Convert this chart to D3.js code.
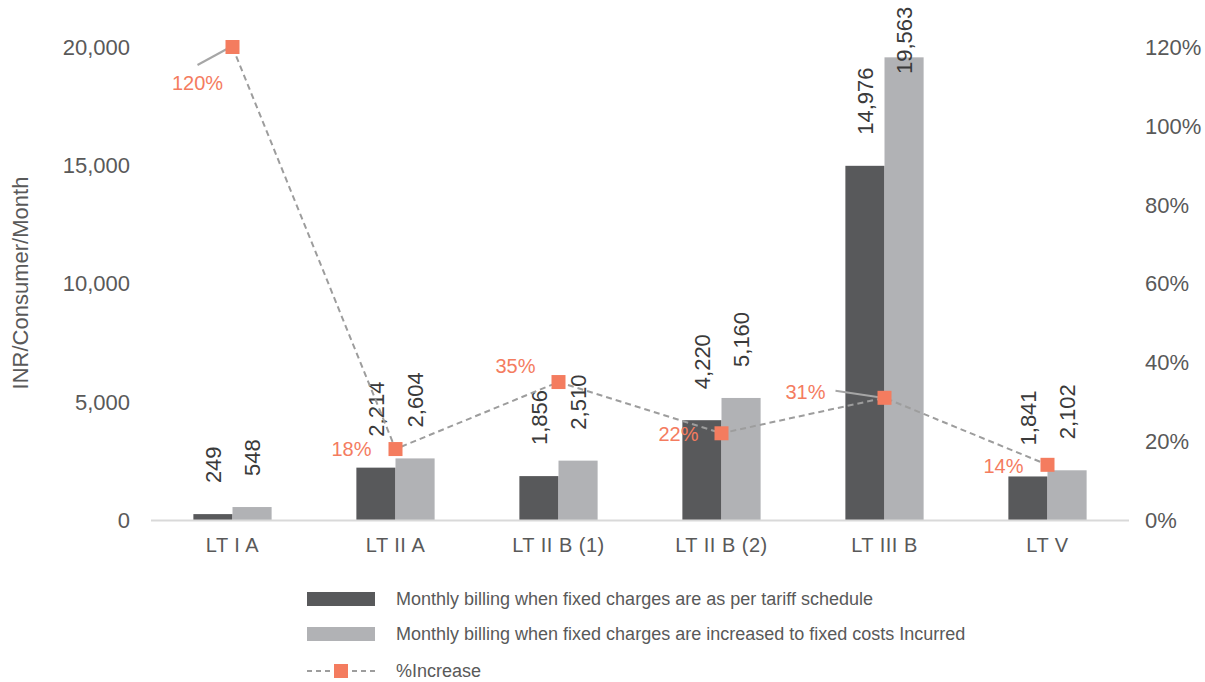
<!DOCTYPE html>
<html>
<head>
<meta charset="utf-8">
<script src="https://cdn.jsdelivr.net/npm/d3@7"></script>
<style>
  body { margin: 0; background: #fff; }
  text { font-family: "Liberation Sans", Arial, Helvetica, sans-serif; }
</style>
</head>
<body>
<div id="chart-area"></div>
<script>
// data
var categories = ["LT I A", "LT II A", "LT II B (1)", "LT II B (2)", "LT III B", "LT V"];
var tariffBilling = [249, 2214, 1856, 4220, 14976, 1841];
var costBilling = [548, 2604, 2510, 5160, 19563, 2102];
var pctIncrease = [120, 18, 35, 22, 31, 14];
var leftTicks = [0, 5000, 10000, 15000, 20000];
var rightTicks = [0, 20, 40, 60, 80, 100, 120];
var seriesNames = ["Monthly billing when fixed charges are as per tariff schedule",
                   "Monthly billing when fixed charges are increased to fixed costs Incurred",
                   "%Increase"];

// label placement for the % labels (relative to marker)
var pctLabelPos = [
  {dx: -35, dy: 43, anchor: "middle", leader: [-35, 18]},
  {dx: -24, dy: 7, anchor: "end"},
  {dx: -23, dy: -9, anchor: "end"},
  {dx: -23, dy: 8, anchor: "end"},
  {dx: -59, dy: 1, anchor: "end", leader: [-49, -7]},
  {dx: -24, dy: 8, anchor: "end"}
];

var darkCol = "#58595b",
    lightCol = "#b1b2b5",
    accent = "#f47c5f",
    textCol = "#595959";

var width = 1205, height = 682;
var plot = {left: 151, right: 1129, top: 47, bottom: 520};

var svg = d3.select("#chart-area")
  .append("svg")
  .attr("width", width)
  .attr("height", height);

var x0 = d3.scaleBand()
  .domain(categories)
  .range([plot.left, plot.right])
  .paddingInner(0.52)
  .paddingOuter(0.26);

var x1 = d3.scaleBand()
  .domain([0, 1])
  .range([0, x0.bandwidth()]);

var y = d3.scaleLinear()
  .domain([0, 20000])
  .range([plot.bottom, plot.top]);

var y2 = d3.scaleLinear()
  .domain([0, 120])
  .range([plot.bottom, plot.top]);

// left axis labels
svg.append("g")
  .selectAll("text")
  .data(leftTicks)
  .enter().append("text")
    .attr("x", 130)
    .attr("y", function(d){ return y(d); })
    .attr("dy", "0.36em")
    .attr("text-anchor", "end")
    .attr("font-size", "22px")
    .attr("fill", textCol)
    .text(function(d){ return d3.format(",")(d); });

// right axis labels
svg.append("g")
  .selectAll("text")
  .data(rightTicks)
  .enter().append("text")
    .attr("x", 1145)
    .attr("y", function(d){ return y2(d); })
    .attr("dy", "0.36em")
    .attr("text-anchor", "start")
    .attr("font-size", "22px")
    .attr("fill", textCol)
    .text(function(d){ return d + "%"; });

// y axis title
svg.append("text")
  .attr("transform", "translate(28," + 283 + ") rotate(-90)")
  .attr("text-anchor", "middle")
  .attr("font-size", "22px")
  .attr("fill", textCol)
  .text("INR/Consumer/Month");

// bars
var groups = svg.append("g")
  .selectAll("g")
  .data(categories)
  .enter().append("g")
    .attr("transform", function(d){ return "translate(" + x0(d) + ",0)"; });

var barData = function(d, i){
  return [{s: 0, v: tariffBilling[i]}, {s: 1, v: costBilling[i]}];
};

groups.selectAll("rect")
  .data(barData)
  .enter().append("rect")
    .attr("x", function(d){ return x1(d.s); })
    .attr("y", function(d){ return y(d.v); })
    .attr("width", x1.bandwidth())
    .attr("height", function(d){ return plot.bottom - y(d.v); })
    .attr("fill", function(d){ return d.s == 0 ? darkCol : lightCol; });

// baseline
svg.append("line")
  .attr("x1", plot.left).attr("x2", plot.right)
  .attr("y1", plot.bottom + 0.5).attr("y2", plot.bottom + 0.5)
  .attr("stroke", "#d9d9d9")
  .attr("stroke-width", 2);

// category labels
svg.append("g")
  .selectAll("text")
  .data(categories)
  .enter().append("text")
    .attr("x", function(d){ return x0(d) + x0.bandwidth() / 2; })
    .attr("y", 552)
    .attr("text-anchor", "middle")
    .attr("font-size", "20px")
    .attr("letter-spacing", "0.5px")
    .attr("fill", textCol)
    .text(function(d){ return d; });

// % increase line
var lineGen = d3.line()
  .x(function(d, i){ return x0(categories[i]) + x0.bandwidth() / 2; })
  .y(function(d){ return y2(d); });

svg.append("path")
  .datum(pctIncrease)
  .attr("d", lineGen)
  .attr("fill", "none")
  .attr("stroke", "#9d9d9d")
  .attr("stroke-width", 2)
  .attr("stroke-dasharray", "6,4");

// value labels on bars (rotated)
groups.selectAll("text")
  .data(barData)
  .enter().append("text")
    .attr("transform", function(d){
      var ty = Math.max(y(d.v) - 31, 74);
      return "translate(" + (x1(d.s) + x1.bandwidth() / 2) + "," + ty + ") rotate(-90)";
    })
    .attr("dy", "0.36em")
    .attr("text-anchor", "start")
    .attr("font-size", "22px")
    .attr("fill", "#3a3a3a")
    .text(function(d){ return d3.format(",")(d.v); });

// leader lines
var pts = pctIncrease.map(function(d, i){
  return {v: d, x: x0(categories[i]) + x0.bandwidth() / 2, y: y2(d), pos: pctLabelPos[i]};
});

svg.append("g")
  .selectAll("line")
  .data(pts.filter(function(p){ return p.pos.leader; }))
  .enter().append("line")
    .attr("x1", function(p){ return p.x + p.pos.leader[0]; })
    .attr("y1", function(p){ return p.y + p.pos.leader[1]; })
    .attr("x2", function(p){ return p.x - 2; })
    .attr("y2", function(p){ return p.y; })
    .attr("stroke", "#a6a6a6")
    .attr("stroke-width", 2);

// markers
svg.append("g")
  .selectAll("rect")
  .data(pts)
  .enter().append("rect")
    .attr("x", function(p){ return p.x - 7; })
    .attr("y", function(p){ return p.y - 7; })
    .attr("width", 14)
    .attr("height", 14)
    .attr("fill", accent);

// % labels
svg.append("g")
  .selectAll("text")
  .data(pts)
  .enter().append("text")
    .attr("x", function(p){ return p.x + p.pos.dx; })
    .attr("y", function(p){ return p.y + p.pos.dy; })
    .attr("text-anchor", function(p){ return p.pos.anchor; })
    .attr("font-size", "20px")
    .attr("fill", accent)
    .text(function(p){ return p.v + "%"; });

// legend
var legend = svg.append("g");
var legY = [599, 634, 671];

legend.selectAll("text")
  .data(seriesNames)
  .enter().append("text")
    .attr("x", 396)
    .attr("y", function(d, i){ return legY[i]; })
    .attr("dy", "0.35em")
    .attr("font-size", "18px")
    .attr("fill", textCol)
    .text(function(d){ return d; });

legend.append("rect")
  .attr("x", 307).attr("y", legY[0] - 7)
  .attr("width", 68).attr("height", 14)
  .attr("fill", darkCol);

legend.append("rect")
  .attr("x", 307).attr("y", legY[1] - 7)
  .attr("width", 68).attr("height", 14)
  .attr("fill", lightCol);

legend.append("line")
  .attr("x1", 307).attr("x2", 375)
  .attr("y1", legY[2]).attr("y2", legY[2])
  .attr("stroke", "#9d9d9d")
  .attr("stroke-width", 2)
  .attr("stroke-dasharray", "5,4");

legend.append("rect")
  .attr("x", 334).attr("y", legY[2] - 7)
  .attr("width", 14).attr("height", 14)
  .attr("fill", accent);
</script>
</body>
</html>
